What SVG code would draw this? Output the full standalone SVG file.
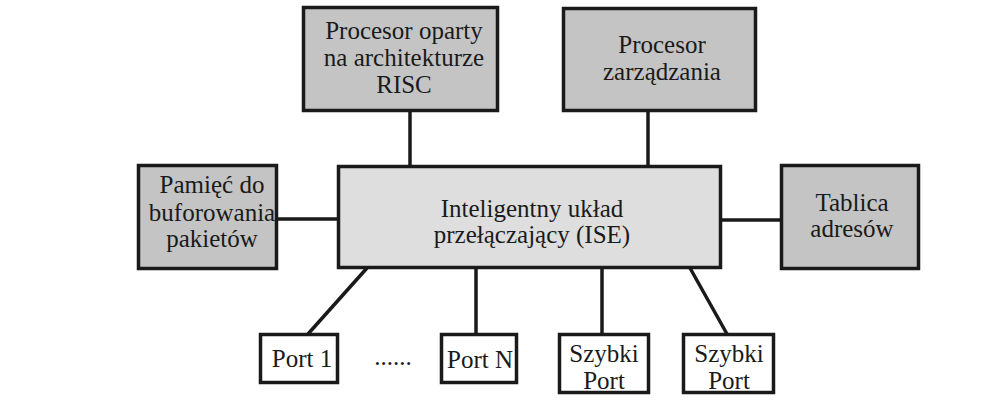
<svg xmlns="http://www.w3.org/2000/svg" width="996" height="414" viewBox="0 0 996 414">
<style>
.box{stroke:#1a1a1a;stroke-width:3.5}
.dark{fill:#c4c4c4}
.light{fill:#dedede}
.white{fill:#ffffff}
text{font-family:"Liberation Serif","Times New Roman",serif;font-size:25px;fill:#1a1a1a;text-anchor:middle}
.conn line{stroke:#1a1a1a;stroke-width:3.5}
</style>
<rect width="996" height="414" fill="#ffffff"/>
<g class="conn" id="connectors">
<line x1="410" y1="110" x2="410" y2="166"/>
<line x1="648" y1="110" x2="648" y2="166"/>
<line x1="277" y1="219" x2="339" y2="219"/>
<line x1="720" y1="220" x2="781" y2="220"/>
<line x1="367" y1="268" x2="308" y2="334"/>
<line x1="476" y1="268" x2="476" y2="334"/>
<line x1="602" y1="268" x2="602" y2="334"/>
<line x1="690" y1="268" x2="727" y2="334"/>
</g>
<g id="risc">
<rect class="box dark" x="303.5" y="7.5" width="194" height="103"/>
<text x="404" y="39">Procesor oparty</text>
<text x="404" y="66">na architekturze</text>
<text x="404" y="93">RISC</text>
</g>
<g id="zarzadzania">
<rect class="box dark" x="563.5" y="8.5" width="192" height="102"/>
<text x="662" y="53">Procesor</text>
<text x="662" y="80">zarządzania</text>
</g>
<g id="pamiec">
<rect class="box dark" x="138.5" y="165.5" width="138" height="103"/>
<text x="212" y="193">Pamięć do</text>
<text x="212" y="221">buforowania</text>
<text x="212" y="247">pakietów</text>
</g>
<g id="ise">
<rect class="box light" x="338.5" y="166.5" width="382" height="101"/>
<text x="532" y="217">Inteligentny układ</text>
<text x="532" y="243">przełączający (ISE)</text>
</g>
<g id="tablica">
<rect class="box dark" x="781.5" y="165.5" width="137" height="103"/>
<text x="852" y="211">Tablica</text>
<text x="852" y="237">adresów</text>
</g>
<g id="port1">
<rect class="box white" x="260.5" y="334.5" width="77" height="48"/>
<text x="302" y="367">Port 1</text>
</g>
<g id="dots">
<text x="393" y="365">......</text>
</g>
<g id="portN">
<rect class="box white" x="441.5" y="334.5" width="75" height="48"/>
<text x="480" y="368">Port N</text>
</g>
<g id="szybki1">
<rect class="box white" x="559.5" y="334.5" width="89" height="58"/>
<text x="604" y="362">Szybki</text>
<text x="604" y="389">Port</text>
</g>
<g id="szybki2">
<rect class="box white" x="683.5" y="334.5" width="90" height="58"/>
<text x="729" y="362">Szybki</text>
<text x="729" y="389">Port</text>
</g>
</svg>
